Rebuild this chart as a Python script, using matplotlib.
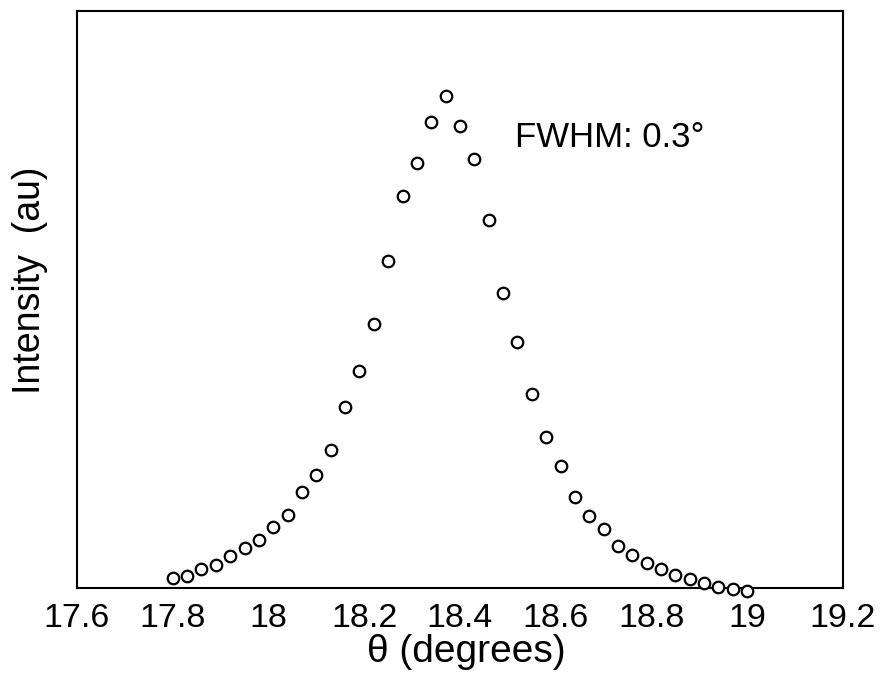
import matplotlib
matplotlib.use("Agg")
import matplotlib.pyplot as plt
import numpy as np

plt.rcParams['font.family'] = ['Liberation Sans', 'DejaVu Sans']

# Scan angle (degrees) and measured intensity (arbitrary units)
theta = [17.80, 17.83, 17.86, 17.89, 17.92, 17.95, 17.98, 18.01, 18.04, 18.07,
         18.10, 18.13, 18.16, 18.19, 18.22, 18.25, 18.28, 18.31, 18.34, 18.37,
         18.40, 18.43, 18.46, 18.49, 18.52, 18.55, 18.58, 18.61, 18.64, 18.67,
         18.70, 18.73, 18.76, 18.79, 18.82, 18.85, 18.88, 18.91, 18.94, 18.97,
         19.00]
intensity = [1.7, 2.1, 3.3, 4.0, 5.6, 7.0, 8.3, 10.5, 12.7, 16.6,
             19.6, 23.9, 31.4, 37.6, 45.7, 56.6, 68.0, 73.7, 80.7, 85.3,
             80.0, 74.3, 63.8, 51.1, 42.6, 33.7, 26.2, 21.1, 15.7, 12.4,
             10.3, 7.2, 5.7, 4.3, 3.3, 2.3, 1.5, 0.9, 0.1, -0.1,
             -0.5]

xticks = [17.6, 17.8, 18.0, 18.2, 18.4, 18.6, 18.8, 19.0, 19.2]
xtick_labels = ['17.6', '17.8', '18', '18.2', '18.4', '18.6', '18.8', '19', '19.2']

fig = plt.figure(figsize=(8.85, 6.76), dpi=100)
ax = fig.add_axes([0.087, 0.1302, 0.8655, 0.8536])

ax.plot(theta, intensity, linestyle='none', marker='o', markersize=8.3,
        markerfacecolor='white', markeredgecolor='black', markeredgewidth=1.6,
        clip_on=False, zorder=3)

ax.set_xlim(17.6, 19.2)
ax.set_ylim(0, 100)
ax.set_xticks(xticks)
ax.set_xticklabels(xtick_labels)
ax.set_yticks([])
ax.tick_params(axis='x', length=0, pad=11, labelsize=24.5)

for sp in ax.spines.values():
    sp.set_linewidth(1.5)

ax.set_xlabel('θ (degrees)', fontsize=28)
ax.xaxis.set_label_coords(0.508, -0.08)
ax.set_ylabel('Intensity  (au)', fontsize=27)
ax.yaxis.set_label_coords(-0.038, 0.534)

ax.text(18.515, 76.4, 'FWHM: 0.3°', fontsize=25, ha='left', va='baseline')

fig.savefig('out.png', dpi=100)
